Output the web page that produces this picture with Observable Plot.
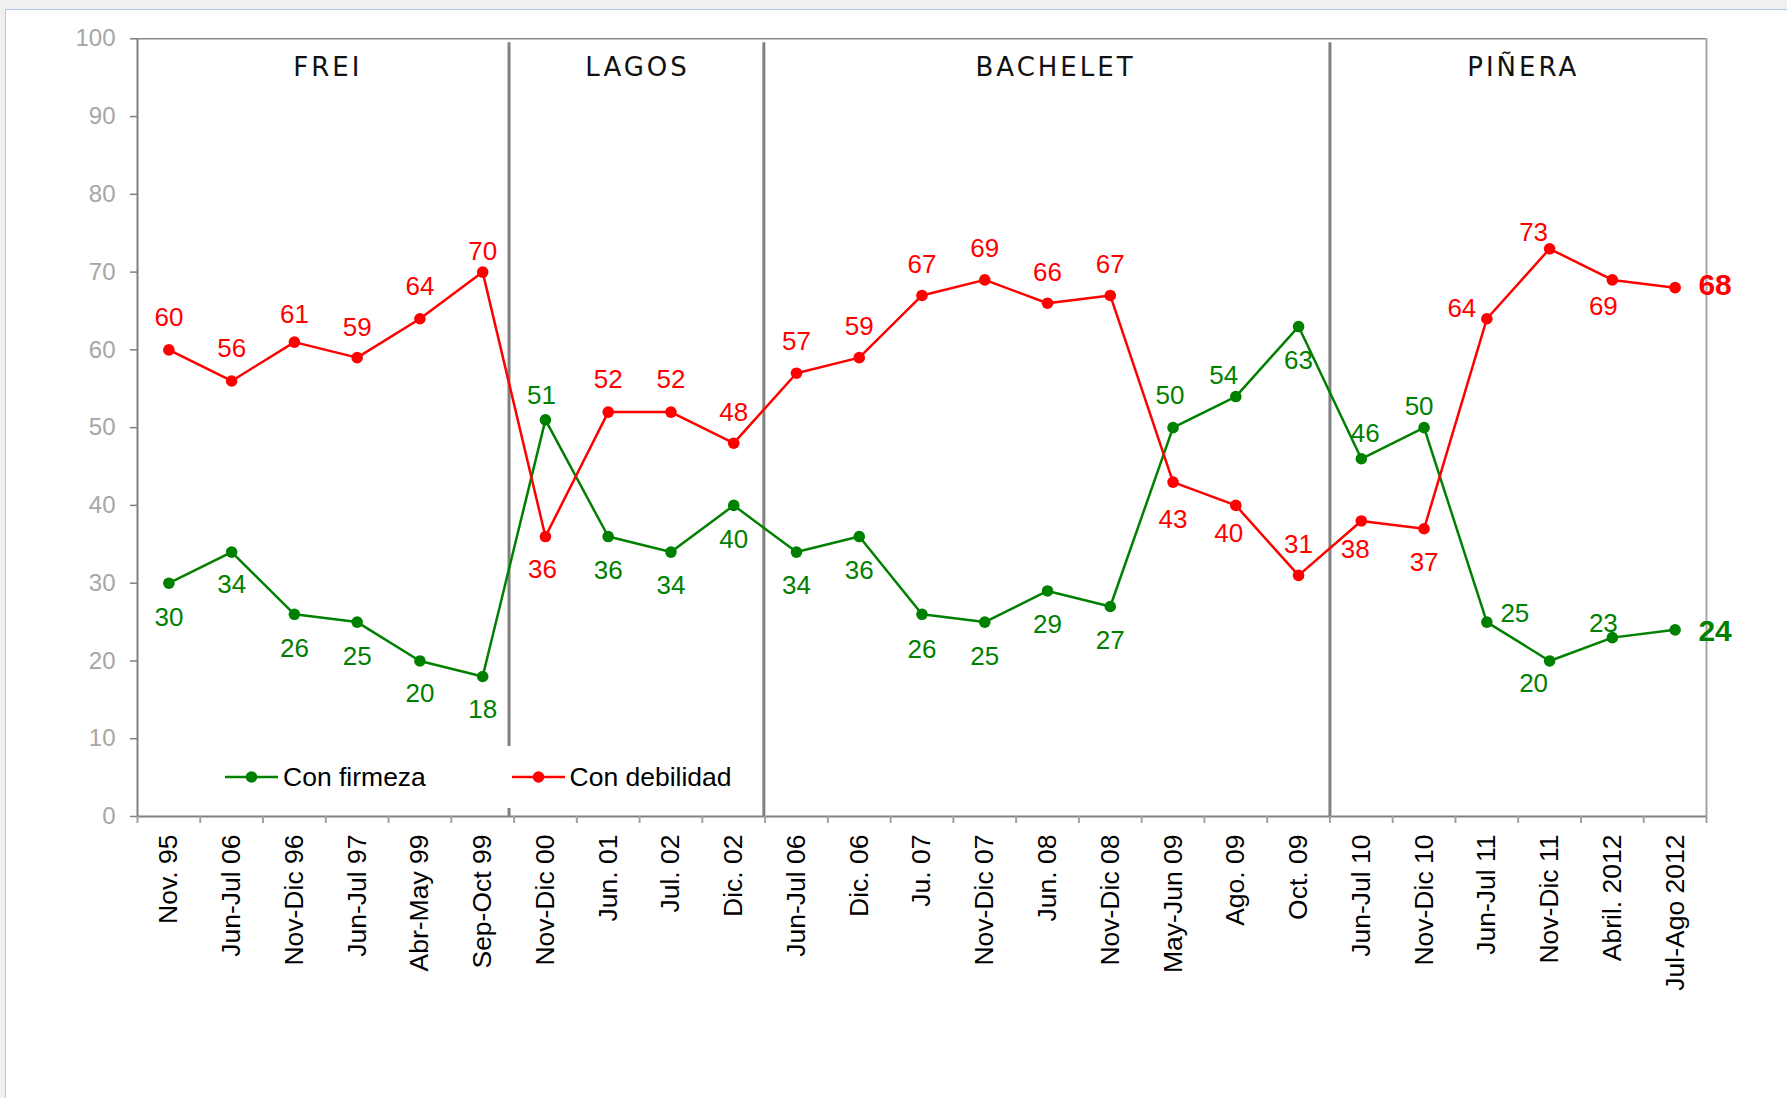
<!DOCTYPE html>
<html>
<head>
<meta charset="utf-8">
<script src="https://cdn.jsdelivr.net/npm/d3@7"></script>
<script src="https://cdn.jsdelivr.net/npm/@observablehq/plot@0.6"></script>
<style>
  html, body { margin: 0; padding: 0; }
  body { width: 1787px; height: 1098px; overflow: hidden; background: #f0f0f0; position: relative;
         font-family: "Liberation Sans", Arial, sans-serif; }
  #frame { position: absolute; left: 5px; top: 9px; width: 1782px; height: 1089px; background: #fff;
           border-left: 1px solid #b3c6ef; border-top: 1px solid #b3c6ef; box-sizing: border-box; }
  #chart { position: absolute; left: 0; top: 0; }
  #legend { position: absolute; left: 225px; top: 746px; width: 515px; height: 62px; background: #fff;
            display: flex; align-items: center; font-size: 26.5px; color: #000; }
  .item { display: flex; align-items: center; }
  .item svg { display: block; margin-right: 5px; }
</style>
</head>
<body>
<div id="frame"></div>
<div id="chart"></div>
<div id="legend"></div>
<script>
// ---- data ----
const categories = ["Nov. 95","Jun-Jul 06","Nov-Dic 96","Jun-Jul 97","Abr-May 99","Sep-Oct 99",
  "Nov-Dic 00","Jun. 01","Jul. 02","Dic. 02",
  "Jun-Jul 06","Dic. 06","Ju. 07","Nov-Dic 07","Jun. 08","Nov-Dic 08","May-Jun 09","Ago. 09","Oct. 09",
  "Jun-Jul 10","Nov-Dic 10","Jun-Jul 11","Nov-Dic 11","Abril. 2012","Jul-Ago 2012"];
const conFirmeza   = [30,34,26,25,20,18,51,36,34,40,34,36,26,25,29,27,50,54,63,46,50,25,20,23,24];
const conDebilidad = [60,56,61,59,64,70,36,52,52,48,57,59,67,69,66,67,43,40,31,38,37,64,73,69,68];
const governments = ["FREI","LAGOS","BACHELET","PIÑERA"];
const govStart = [0,6,10,19];
const govEnd   = [5,9,18,24];
const dividers = [5.42,9.48,18.5];
const yTicks = [0,10,20,30,40,50,60,70,80,90,100];
const seriesNames = ["Con firmeza","Con debilidad"];

// ---- styling (label placement offsets in px) ----
const GREEN = "#008000", RED = "#ff0000";
const groupDx = [2,-2,8,5];
const greenOffsets = [[0,34],[0,33],[0,34],[0,35],[0,33],[0,33],[-4,-24],[0,34],[0,34],[0,34],[0,34],[0,34],[0,35],[0,35],[0,34],[0,34],[-3,-32],[-12,-21],[0,34],[4,-25],[-5,-21],[28,-8],[-16,23],[-9,-14],[40,2]];
const redOffsets = [[0,-32],[0,-32],[0,-27],[0,-30],[0,-32],[0,-20],[-3,33],[0,-32],[0,-32],[0,-31],[0,-32],[0,-31],[0,-31],[0,-31],[0,-31],[0,-31],[0,38],[-7,28],[0,-31],[-6,29],[0,34],[-25,-10],[-16,-16],[-9,27],[40,-2]];

const green = conFirmeza.map((v, i) => ({i, v}));
const red = conDebilidad.map((v, i) => ({i, v}));
const groups = governments.map((g, k) => ({name: g, mid: (govStart[k] + govEnd[k]) / 2}));

function labelMarks(data, offsets, color) {
  return data.map((d, k) => {
    const last = k === data.length - 1;
    return Plot.text([d], {
      x: "i", y: "v", text: d => String(d.v),
      dx: offsets[k][0], dy: offsets[k][1],
      fill: color, fontSize: last ? 30 : 26, fontWeight: last ? "bold" : "normal",
      textAnchor: "middle"
    });
  });
}

const chart = Plot.plot({
  width: 1787, height: 1098,
  marginLeft: 137, marginRight: 81, marginTop: 38.3, marginBottom: 282,
  x: {domain: [-0.5, 24.5], label: null},
  y: {domain: [0, 100], label: null},
  style: {background: "transparent", fontFamily: "'Liberation Sans', Arial, sans-serif", fontSize: "25px", maxWidth: "none", overflow: "visible"},
  marks: [
    Plot.ruleY([100], {stroke: "#8a8a8a", strokeWidth: 1.5}),
    Plot.ruleX([24.5], {y1: 0, y2: 100, stroke: "#a6a6a6", strokeWidth: 2}),
    Plot.ruleX(dividers, {x: d => d, y1: 0, y2: 99.5, stroke: "#808080", strokeWidth: 3}),
    Plot.ruleX([-0.5], {y1: 0, y2: 100, stroke: "#808080", strokeWidth: 2}),
    Plot.ruleY([0], {stroke: "#808080", strokeWidth: 2}),
    Plot.axisY({ticks: yTicks, tickSize: 7, tickPadding: 15, fontSize: 24, fill: "#a6a6a6", stroke: "#808080", strokeWidth: 1.5, label: null}),
    Plot.axisX({ticks: d3.range(-0.5, 25, 1), tickSize: 7, tickFormat: () => "", stroke: "#a0a0a0", strokeWidth: 2, label: null}),
    Plot.axisX({ticks: d3.range(0, 25), tickSize: 0, tickPadding: 18, tickRotate: -90,
                tickFormat: i => categories[i], fontSize: 26.5, fill: "#000", label: null}),
    ...groups.map((g, k) => Plot.text([g], {x: "mid", y: 96.3, text: "name", dx: groupDx[k], fontSize: 26, fill: "#111",
                       fontFamily: "'DejaVu Sans', Verdana, sans-serif"})),
    Plot.line(green, {x: "i", y: "v", stroke: GREEN, strokeWidth: 2.5}),
    Plot.line(red, {x: "i", y: "v", stroke: RED, strokeWidth: 2.5}),
    Plot.dot(green, {x: "i", y: "v", r: 5.8, fill: GREEN}),
    Plot.dot(red, {x: "i", y: "v", r: 5.8, fill: RED}),
    ...labelMarks(green, greenOffsets, GREEN),
    ...labelMarks(red, redOffsets, RED)
  ]
});
d3.select(chart).selectAll("text").filter(function() { return governments.includes(this.textContent); })
  .attr("letter-spacing", "3px");
document.getElementById("chart").appendChild(chart);

// legend
const legend = d3.select("#legend");
[[seriesNames[0], GREEN, 286.5], [seriesNames[1], RED, null]].forEach(([name, color, w]) => {
  const item = legend.append("div").attr("class", "item");
  if (w) item.style("width", w + "px");
  const s = item.append("svg").attr("width", 53).attr("height", 14);
  s.append("line").attr("x1", 0).attr("x2", 53).attr("y1", 7).attr("y2", 7).attr("stroke", color).attr("stroke-width", 2.5);
  s.append("circle").attr("cx", 26.5).attr("cy", 7).attr("r", 5.8).attr("fill", color);
  item.append("span").text(name);
});
</script>
</body>
</html>
